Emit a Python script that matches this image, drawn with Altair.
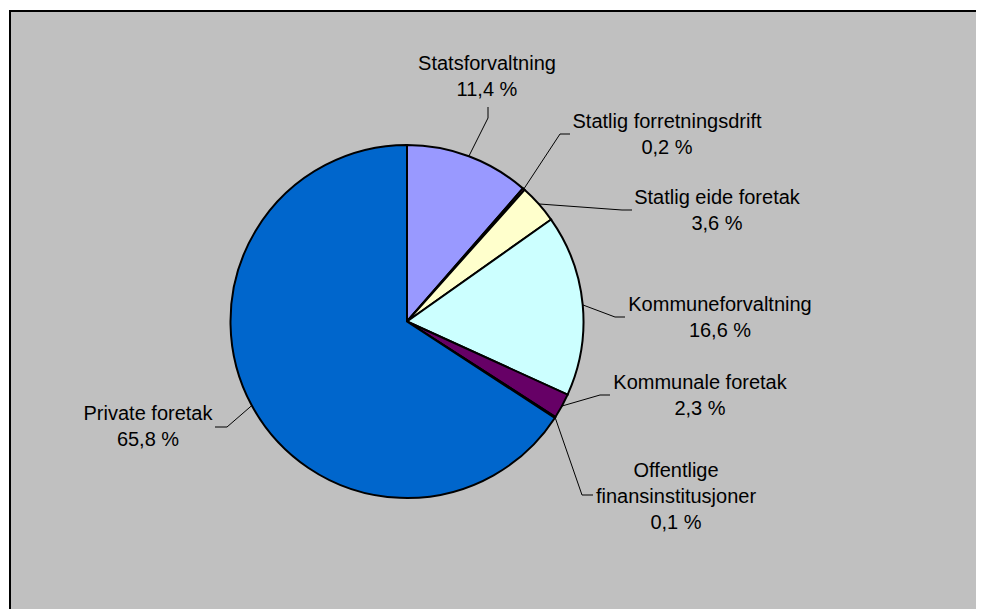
import math
import altair as alt
import pandas as pd

# ---------------- data ----------------
categories = [
    "Statsforvaltning",
    "Statlig forretningsdrift",
    "Statlig eide foretak",
    "Kommuneforvaltning",
    "Kommunale foretak",
    "Offentlige finansinstitusjoner",
    "Private foretak",
]
values = [11.4, 0.2, 3.6, 16.6, 2.3, 0.1, 65.8]
label_names = [
    ["Statsforvaltning"],
    ["Statlig forretningsdrift"],
    ["Statlig eide foretak"],
    ["Kommuneforvaltning"],
    ["Kommunale foretak"],
    ["Offentlige", "finansinstitusjoner"],
    ["Private foretak"],
]
colors = ["#9999FF", "#993366", "#FFFFCC", "#CCFFFF", "#660066", "#FF8080", "#0066CC"]

# ---------------- layout (pixels inside the chart) ----------------
W, H = 968, 601
CX, CY, R = 399, 313.5, 176.5
label_xy = [(479, 61.5), (659, 119.5), (709, 195.5), (712, 302.5),
            (692, 381), (668, 469), (140, 412)]
elbow_xy = [(480, 110), (552, 126), (614, 202), (607, 309),
            (592, 387), (574, 487), (219, 419)]
end_xy = [(480, 99), (562, 126), (624, 202), (617, 309),
          (602, 387), (585, 487), (207, 419)]

total = sum(values)
pie_df = pd.DataFrame({"category": categories, "value": values, "idx": list(range(len(values)))})

# labels
texts = []
for names, v in zip(label_names, values):
    texts.append(names + [f"{v:.1f}".replace(".", ",") + " %"])
lab_df = pd.DataFrame({
    "category": categories,
    "text": texts,
    "lx": [p[0] for p in label_xy],
    "ly": [p[1] for p in label_xy],
})

# leader lines: start at the arc edge at the slice mid-angle
rows = []
cum = 0.0
for i, (c, v) in enumerate(zip(categories, values)):
    mid = (cum + v / 2) / total * 2 * math.pi
    cum += v
    sx = CX + R * math.sin(mid)
    sy = CY - R * math.cos(mid)
    pts = [(sx, sy), elbow_xy[i], end_xy[i]]
    for k, (px, py) in enumerate(pts):
        rows.append({"category": c, "k": k, "px": px, "py": py})
lead_df = pd.DataFrame(rows)

# ---------------- chart ----------------
bg = alt.Chart(pd.DataFrame({"a": [0]})).mark_rect(
    fill="#C0C0C0", stroke="black", strokeWidth=2
).encode(x=alt.value(2), y=alt.value(3), x2=alt.value(1200), y2=alt.value(900))

pie = alt.Chart(pie_df).mark_arc(
    outerRadius=R, stroke="black", strokeWidth=2
).encode(
    theta=alt.Theta("value:Q", stack=True),
    color=alt.Color("category:N", scale=alt.Scale(domain=categories, range=colors), legend=None),
    order=alt.Order("idx:Q"),
    x=alt.value(CX),
    y=alt.value(CY),
)

leaders = alt.Chart(lead_df).mark_line(color="black", strokeWidth=1).encode(
    x=alt.X("px:Q", scale=None),
    y=alt.Y("py:Q", scale=None),
    detail="category:N",
    order="k:Q",
)

labels = alt.Chart(lab_df).mark_text(
    font="Liberation Sans", fontSize=20, color="black", align="center",
    baseline="alphabetic", lineHeight=26
).encode(
    x=alt.X("lx:Q", scale=None),
    y=alt.Y("ly:Q", scale=None),
    text="text",
)

chart = alt.layer(bg, pie, leaders, labels).properties(
    width=W, height=H, padding=0, autosize=alt.AutoSizeParams(type="none"),
    background="white",
).configure_view(stroke=None)

chart.save("out.html", embed_options={"renderer": "svg", "actions": False})
